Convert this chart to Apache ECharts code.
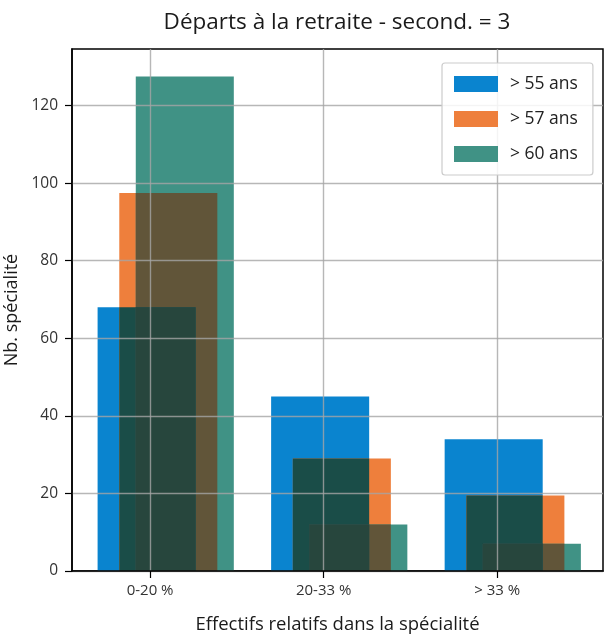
<!DOCTYPE html>
<html>
<head>
<meta charset="utf-8">
<script src="https://cdn.jsdelivr.net/npm/echarts@6/dist/echarts.min.js"></script>
<style>
html,body{margin:0;padding:0;background:#fff;}
#chart{width:605px;height:637px;}
</style>
</head>
<body>
<div id="chart"></div>
<script>
const categories = ['0-20 %', '20-33 %', '> 33 %'];
const seriesNames = ['> 55 ans', '> 57 ans', '> 60 ans'];
const over55 = [68, 45, 34];
const over57 = [97.5, 29, 19.5];
const over60 = [127.5, 12, 7];
const yTicks = [0, 20, 40, 60, 80, 100, 120];

const values = [over55, over57, over60];
const colors = ['#0A84CF', '#EE7F3C', '#409285'];
// colours of overlapping parts
const overlapColors = { '0-1': '#1A4D48', '1-2': '#615539', '0-2': '#1E5560', '0-1-2': '#27463D' };
const BAR_W = 0.565;
const OFFSETS = [-0.02, 0.105, 0.2];
const FONT = 'Open Sans';

function rectFor(api, xl, xr, h, fill) {
  const p1 = api.coord([xl, h]);
  const p2 = api.coord([xr, 0]);
  return { type: 'rect', shape: { x: p1[0], y: p1[1], width: p2[0] - p1[0], height: p2[1] - p1[1] }, style: { fill: fill } };
}

const baseSeries = seriesNames.map((name, s) => ({
  name: name,
  type: 'custom',
  itemStyle: { color: colors[s] },
  data: values[s].map((v, i) => [i, v]),
  encode: { x: 0, y: 1 },
  renderItem: function (params, api) {
    const x = api.value(0) + OFFSETS[s];
    return rectFor(api, x - BAR_W / 2, x + BAR_W / 2, api.value(1), colors[s]);
  },
  z: 2
}));

// overlap regions derived from the series values
const subsets = [[0, 1], [1, 2], [0, 2], [0, 1, 2]];
const overlapData = [];
categories.forEach((c, i) => {
  subsets.forEach(sub => {
    const xl = Math.max(...sub.map(s => i + OFFSETS[s] - BAR_W / 2));
    const xr = Math.min(...sub.map(s => i + OFFSETS[s] + BAR_W / 2));
    const h = Math.min(...sub.map(s => values[s][i]));
    if (xr > xl && h > 0) overlapData.push([xl, xr, h, sub.join('-')]);
  });
});

const overlapSeries = {
  name: 'overlap',
  type: 'custom',
  data: overlapData,
  encode: { x: [0, 1], y: 2 },
  renderItem: function (params, api) {
    const key = overlapData[params.dataIndex][3];
    return rectFor(api, api.value(0), api.value(1), api.value(2), overlapColors[key]);
  },
  z: 2,
  silent: true
};

const chart = echarts.init(document.getElementById('chart'), null, { renderer: 'canvas' });
chart.setOption({
  animation: false,
  backgroundColor: '#fff',
  textStyle: { fontFamily: FONT },
  title: {
    text: 'Départs à la retraite - second. = 3',
    left: 337, textAlign: 'center', top: 11, padding: 0,
    textStyle: { fontFamily: FONT, fontSize: 22.5, fontWeight: 'normal', color: '#1a1a1a' }
  },
  legend: {
    data: seriesNames,
    orient: 'vertical',
    left: 442, top: 63,
    icon: 'rect',
    itemWidth: 44, itemHeight: 16, itemGap: 17,
    padding: [12, 15, 12, 12],
    backgroundColor: 'rgba(255,255,255,0.85)',
    borderColor: '#cccccc', borderWidth: 1.2, borderRadius: 3,
    selectedMode: false,
    z: 10,
    textStyle: { fontFamily: FONT, fontSize: 17.5, color: '#222', lineHeight: 16, padding: [0, 0, 0, 7] }
  },
  grid: {
    left: 72, right: 2, top: 49, bottom: 66,
    containLabel: false, outerBoundsMode: 'none',
    show: true, borderColor: '#000', borderWidth: 1.5, backgroundColor: 'transparent'
  },
  xAxis: {
    type: 'value',
    min: -0.45, max: 2.61,
    z: 3,
    name: 'Effectifs relatifs dans la spécialité',
    nameLocation: 'middle', nameGap: 44,
    nameTextStyle: { fontFamily: FONT, fontSize: 18.5, color: '#1a1a1a' },
    axisLine: { show: true, onZero: false, lineStyle: { color: '#000', width: 1.5 } },
    axisTick: { show: true, customValues: [0, 1, 2], length: 7, lineStyle: { color: '#000', width: 1.2 } },
    axisLabel: {
      customValues: [0, 1, 2], margin: 12,
      formatter: v => categories[Math.round(v)],
      fontFamily: FONT, fontSize: 15, color: '#333'
    },
    splitLine: { show: true, lineStyle: { color: 'rgba(165,165,165,0.8)', width: 1.4 } }
  },
  yAxis: {
    type: 'value',
    min: 0, max: 134.6,
    z: 3,
    name: 'Nb. spécialité',
    nameLocation: 'middle', nameGap: 44,
    nameTextStyle: { fontFamily: FONT, fontSize: 18, color: '#1a1a1a' },
    axisLine: { show: true, onZero: false, lineStyle: { color: '#000', width: 1.5 } },
    axisTick: { show: true, customValues: yTicks, length: 7, lineStyle: { color: '#000', width: 1.2 } },
    axisLabel: { customValues: yTicks, margin: 14, fontFamily: FONT, fontSize: 15.5, color: '#333' },
    splitLine: { show: true, lineStyle: { color: 'rgba(165,165,165,0.8)', width: 1.4 } }
  },
  series: baseSeries.concat([overlapSeries])
});
</script>
</body>
</html>
